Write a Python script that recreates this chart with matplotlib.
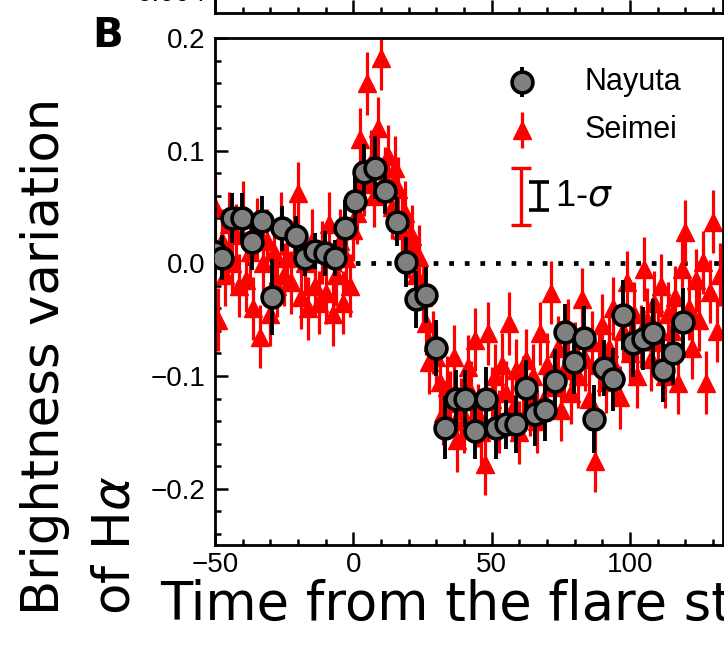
import numpy as np
import matplotlib
matplotlib.use("Agg")
import matplotlib.pyplot as plt
from matplotlib.ticker import MultipleLocator

# Nayuta (grey circles)
nayuta_t = [-50.0, -47.5, -43.8, -40.2, -36.6, -33.0, -29.3, -25.7, -20.7, -17.4,
            -13.8, -10.1, -6.5, -2.9, 0.7, 4.0, 8.0, 11.6, 15.6, 19.2,
            22.5, 26.1, 29.7, 33.3, 37.0, 40.4, 44.0, 47.8, 51.4, 55.1,
            58.7, 62.3, 65.6, 69.2, 72.8, 76.4, 79.7, 83.3, 86.9, 90.6,
            93.8, 97.5, 101.1, 104.7, 108.3, 112.0, 115.6, 119.2]
nayuta_v = [0.010, 0.005, 0.040, 0.040, 0.019, 0.038, -0.030, 0.031, 0.024, 0.005,
            0.011, 0.009, 0.005, 0.031, 0.055, 0.081, 0.085, 0.064, 0.037, 0.001,
            -0.032, -0.028, -0.075, -0.146, -0.120, -0.120, -0.149, -0.120, -0.146, -0.143,
            -0.143, -0.111, -0.134, -0.130, -0.104, -0.061, -0.088, -0.066, -0.138, -0.093,
            -0.103, -0.046, -0.071, -0.067, -0.062, -0.095, -0.080, -0.052]
nayuta_e = [0.020, 0.020, 0.022, 0.022, 0.025, 0.022, 0.034, 0.020, 0.018, 0.016,
            0.016, 0.020, 0.016, 0.025, 0.022, 0.025, 0.028, 0.020, 0.022, 0.022,
            0.025, 0.025, 0.025, 0.028, 0.025, 0.025, 0.025, 0.028, 0.028, 0.022,
            0.025, 0.025, 0.028, 0.028, 0.028, 0.025, 0.028, 0.028, 0.030, 0.025,
            0.028, 0.031, 0.030, 0.028, 0.030, 0.028, 0.028, 0.030]

# Seimei (red triangles)
seimei_t = [-50.0, -48.8, -47.5, -46.3, -45.0, -43.8, -42.5, -41.3, -40.0, -38.8,
            -37.5, -36.3, -35.0, -33.8, -32.5, -31.3, -30.0, -28.8, -27.5, -26.3,
            -25.0, -23.8, -22.5, -21.3, -20.0, -18.8, -17.5, -16.3, -15.0, -13.8,
            -12.5, -11.3, -10.0, -8.8, -7.5, -6.3, -5.0, -3.8, -2.5, -1.3,
            0.0, 1.3, 2.5, 3.8, 5.0, 6.3, 7.5, 8.8, 10.0, 11.3,
            12.5, 13.8, 15.0, 16.3, 17.5, 18.8, 20.0, 21.3, 22.5, 23.8,
            25.0, 26.3, 27.5, 28.8, 30.0, 31.3, 32.5, 33.8, 35.0, 36.3,
            37.5, 38.8, 40.0, 41.3, 42.5, 43.8, 45.0, 46.3, 47.5, 48.8,
            50.0, 51.3, 52.5, 53.8, 55.0, 56.3, 57.5, 58.8, 60.0, 61.3,
            62.5, 63.8, 65.0, 66.3, 67.5, 68.8, 70.0, 71.3, 72.5, 73.8,
            75.0, 76.3, 77.5, 78.8, 80.0, 81.3, 82.5, 83.8, 85.0, 86.3,
            87.5, 88.8, 90.0, 91.3, 92.5, 93.8, 95.0, 96.3, 97.5, 98.8,
            100.0, 101.3, 102.5, 103.8, 105.0, 106.3, 107.5, 108.8, 110.0, 111.3,
            112.5, 113.8, 115.0, 116.3, 117.5, 118.8, 120.0, 121.3, 122.5, 123.8,
            125.0, 126.3, 127.5, 128.8, 130.0, 131.3, 132.5]
seimei_v = [0.050, -0.050, 0.020, -0.010, 0.035, 0.000, 0.025, -0.020, 0.045, -0.015,
            0.010, -0.040, 0.030, -0.065, 0.000, 0.020, -0.045, 0.010, -0.020, 0.035,
            -0.010, 0.005, -0.017, 0.030, 0.062, -0.030, 0.000, -0.040, 0.020, -0.020,
            -0.035, 0.010, -0.026, 0.035, -0.045, -0.010, 0.020, -0.035, 0.005, -0.020,
            0.030, 0.045, 0.110, 0.070, 0.160, 0.090, 0.060, 0.120, 0.182, 0.075,
            0.095, 0.050, 0.085, 0.066, 0.030, 0.045, 0.015, 0.024, -0.010, 0.006,
            -0.030, -0.053, -0.088, -0.070, -0.083, -0.105, -0.133, -0.110, -0.124, -0.083,
            -0.157, -0.130, -0.140, -0.092, -0.115, -0.068, -0.135, -0.150, -0.178, -0.062,
            -0.120, -0.100, -0.140, -0.090, -0.115, -0.053, -0.130, -0.095, -0.150, -0.110,
            -0.086, -0.125, -0.100, -0.140, -0.062, -0.120, -0.090, -0.026, -0.110, -0.075,
            -0.130, -0.095, -0.060, -0.115, -0.080, -0.100, -0.032, -0.085, -0.120, -0.070,
            -0.175, -0.090, -0.055, -0.105, -0.075, -0.040, -0.095, -0.119, -0.060, -0.017,
            -0.080, -0.045, -0.100, -0.065, -0.005, -0.050, -0.085, -0.035, -0.070, -0.020,
            -0.100, -0.045, -0.060, -0.030, -0.106, -0.005, 0.028, -0.040, -0.075, -0.015,
            -0.050, 0.001, -0.106, -0.025, 0.037, -0.060, -0.010]
seimei_e = [0.028] * len(seimei_t)

W, H = 724, 646
fig = plt.figure(figsize=(W / 100, H / 100), dpi=100)
tickfont = ['Liberation Sans Narrow', 'Liberation Sans']
labelfont = ['DejaVu Sans']

ax = fig.add_axes([215 / W, 1 - 545 / H, (723 - 215) / W, (545 - 38) / H])

ax.axhline(0, color='black', lw=3.4, dashes=(1, 2.3), dash_capstyle='butt', zorder=1)
ax.errorbar(seimei_t, seimei_v, yerr=seimei_e, fmt='^', color='red', ms=13,
            elinewidth=2.3, capsize=0, zorder=2)
ax.errorbar(nayuta_t, nayuta_v, yerr=nayuta_e, fmt='o', mfc='#808080', mec='black',
            mew=2.6, ms=15, ecolor='black', elinewidth=2.8, capsize=0, zorder=3)

ax.set_xlim(-50, 133.6)
ax.set_ylim(-0.25, 0.2)
ax.xaxis.set_major_locator(MultipleLocator(50))
ax.xaxis.set_minor_locator(MultipleLocator(10))
ax.yaxis.set_major_locator(MultipleLocator(0.1))
ax.yaxis.set_minor_locator(MultipleLocator(0.02))
ax.tick_params(which='both', direction='in', width=1.8)
ax.tick_params(which='major', length=9.5)
ax.tick_params(which='minor', length=4.5)
ax.tick_params(axis='y', pad=7)
ax.tick_params(axis='x', pad=5)
for lab in ax.get_xticklabels() + ax.get_yticklabels():
    lab.set_family(tickfont)
    lab.set_fontsize(20)
for s in ax.spines.values():
    s.set_linewidth(2)

# legend drawn by hand
ax.errorbar([0.604], [0.913], yerr=[0.03], fmt='o', mfc='#808080', mec='black',
            mew=2.6, ms=15, ecolor='black', elinewidth=2.8, capsize=0,
            transform=ax.transAxes, clip_on=False, zorder=5)
ax.errorbar([0.604], [0.819], yerr=[0.035], fmt='^', color='red', ms=13,
            elinewidth=2.3, capsize=0, transform=ax.transAxes, zorder=5)
ax.text(0.728, 0.913, 'Nayuta', transform=ax.transAxes, ha='left', va='center',
        fontsize=22, family='Liberation Sans')
ax.text(0.728, 0.819, 'Seimei', transform=ax.transAxes, ha='left', va='center',
        fontsize=22, family='Liberation Sans')
ax.errorbar([0.602], [0.6875], yerr=[0.0565], fmt='none', ecolor='red', elinewidth=2.4,
            capsize=7, capthick=2.4, transform=ax.transAxes, zorder=5)
ax.errorbar([0.638], [0.6885], yerr=[0.0275], fmt='none', ecolor='black', elinewidth=2.6,
            capsize=7, capthick=2.6, transform=ax.transAxes, zorder=5)
ax.text(0.67, 0.688, r'1-$\sigma$', transform=ax.transAxes, ha='left', va='center',
        fontsize=26, family='Liberation Sans')

# remnant of the upper panel
ax_top = fig.add_axes([215 / W, 1 - 13 / H, (723 - 215) / W, 0.2])
ax_top.set_xlim(-50, 133.6)
ax_top.set_ylim(0, 1)
ax_top.xaxis.set_major_locator(MultipleLocator(50))
ax_top.xaxis.set_minor_locator(MultipleLocator(10))
ax_top.tick_params(which='both', direction='in', width=1.8, labelbottom=False)
ax_top.tick_params(which='major', length=9.5)
ax_top.tick_params(which='minor', length=4.5)
ax_top.set_yticks([])
for s in ax_top.spines.values():
    s.set_linewidth(2)
fig.text(207 / W, 1 + 6 / H, '0.004', ha='right', va='center', fontsize=20,
         family=tickfont)

fig.text(92 / W, 1 - 36 / H, 'B', ha='left', va='center', fontsize=29,
         fontweight='black', family='DejaVu Sans')

fig.text(45 / W, 1 - 615 / H, 'Brightness variation', rotation=90, ha='center',
         va='bottom', fontsize=37, family=labelfont)
fig.text(116 / W, 1 - 615 / H, r'of H$\alpha$', rotation=90, ha='center',
         va='bottom', fontsize=37, family=labelfont)
fig.text(160 / W, 1 - 620 / H, 'Time from the flare start (min)', ha='left',
         va='baseline', fontsize=38, family=labelfont)

fig.savefig('out.png', dpi=100)
